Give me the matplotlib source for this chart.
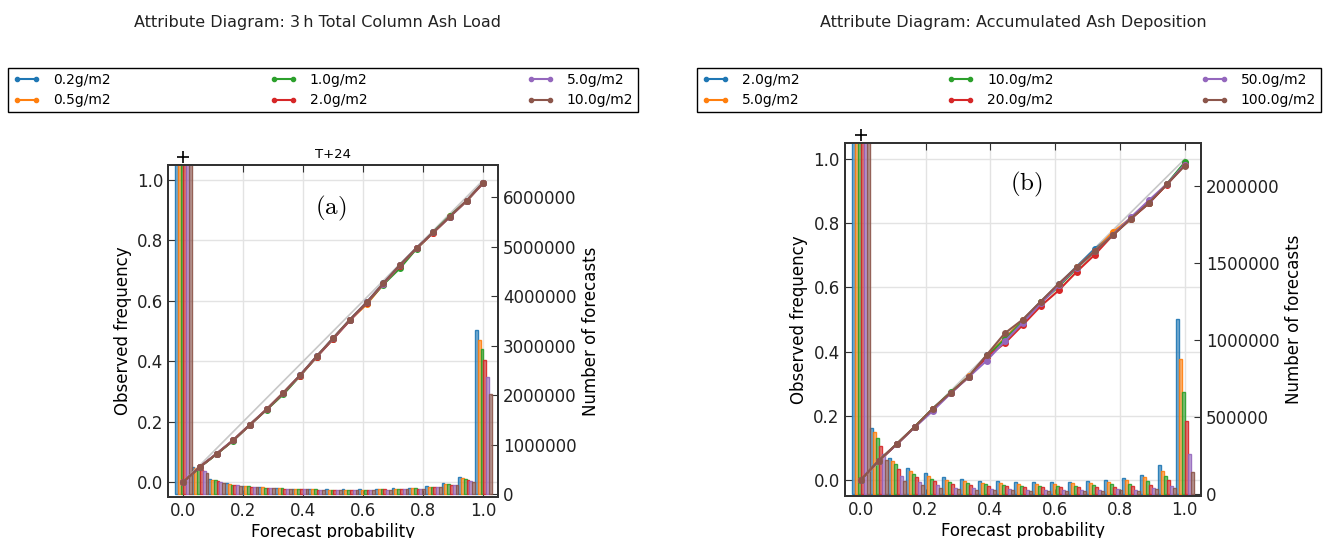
import matplotlib
matplotlib.use("Agg")
import matplotlib.pyplot as plt
from matplotlib.colors import to_rgba
import numpy as np

plt.rcParams['font.family'] = ['DejaVu Sans']
plt.rcParams['mathtext.fontset'] = 'cm'

# ---------------- data ----------------
n_members = 18
prob = [k / n_members for k in range(n_members + 1)]   # forecast probability levels

colors = ['#1f77b4', '#ff7f0e', '#2ca02c', '#d62728', '#9467bd', '#8c564b']

titles = ["Attribute Diagram: 3\u2009h Total Column Ash Load",
          "Attribute Diagram: Accumulated Ash Deposition"]
labels_a = ['0.2g/m2', '0.5g/m2', '1.0g/m2', '2.0g/m2', '5.0g/m2', '10.0g/m2']
labels_b = ['2.0g/m2', '5.0g/m2', '10.0g/m2', '20.0g/m2', '50.0g/m2', '100.0g/m2']

# observed frequency, panel (a)
obs_a = [
    [0.0, 0.050, 0.093, 0.138, 0.190, 0.240, 0.295, 0.353, 0.416, 0.477, 0.538, 0.595, 0.658, 0.719, 0.775, 0.827, 0.879, 0.932, 0.992],
    [0.0, 0.050, 0.093, 0.139, 0.190, 0.241, 0.296, 0.352, 0.415, 0.476, 0.537, 0.588, 0.655, 0.718, 0.774, 0.826, 0.880, 0.932, 0.991],
    [0.0, 0.049, 0.092, 0.137, 0.189, 0.239, 0.290, 0.351, 0.414, 0.475, 0.536, 0.592, 0.654, 0.708, 0.773, 0.828, 0.882, 0.931, 0.991],
    [0.0, 0.050, 0.093, 0.138, 0.189, 0.240, 0.294, 0.352, 0.414, 0.474, 0.535, 0.593, 0.656, 0.716, 0.774, 0.826, 0.879, 0.931, 0.990],
    [0.0, 0.050, 0.094, 0.139, 0.190, 0.241, 0.295, 0.353, 0.416, 0.476, 0.537, 0.595, 0.657, 0.718, 0.775, 0.827, 0.879, 0.932, 0.991],
    [0.0, 0.050, 0.093, 0.138, 0.190, 0.240, 0.295, 0.353, 0.416, 0.477, 0.538, 0.595, 0.658, 0.719, 0.775, 0.827, 0.879, 0.932, 0.992],
]
# observed frequency, panel (b)
obs_b = [
    [0.0, 0.060, 0.112, 0.165, 0.222, 0.272, 0.322, 0.388, 0.440, 0.498, 0.556, 0.610, 0.665, 0.720, 0.765, 0.815, 0.862, 0.921, 0.988],
    [0.0, 0.060, 0.112, 0.165, 0.221, 0.272, 0.323, 0.386, 0.442, 0.497, 0.554, 0.608, 0.663, 0.714, 0.772, 0.816, 0.864, 0.921, 0.985],
    [0.0, 0.060, 0.112, 0.166, 0.222, 0.273, 0.322, 0.385, 0.438, 0.494, 0.553, 0.603, 0.660, 0.712, 0.764, 0.814, 0.863, 0.922, 0.990],
    [0.0, 0.059, 0.111, 0.165, 0.221, 0.271, 0.321, 0.383, 0.426, 0.483, 0.542, 0.591, 0.649, 0.702, 0.763, 0.813, 0.862, 0.920, 0.982],
    [0.0, 0.060, 0.111, 0.164, 0.215, 0.270, 0.321, 0.372, 0.432, 0.490, 0.550, 0.607, 0.662, 0.713, 0.764, 0.818, 0.871, 0.922, 0.983],
    [0.0, 0.060, 0.112, 0.165, 0.222, 0.272, 0.322, 0.390, 0.457, 0.500, 0.556, 0.612, 0.663, 0.713, 0.762, 0.814, 0.863, 0.921, 0.979],
]

# number of forecasts per probability bin (millions), panel (a)
count_a = [
    [29.0, 0.54, 0.300, 0.215, 0.170, 0.140, 0.120, 0.105, 0.100, 0.095, 0.095, 0.098, 0.100, 0.115, 0.120, 0.160, 0.215, 0.335, 3.31],
    [28.5, 0.52, 0.285, 0.200, 0.160, 0.135, 0.115, 0.100, 0.095, 0.090, 0.085, 0.090, 0.098, 0.105, 0.115, 0.150, 0.200, 0.325, 3.11],
    [28.0, 0.50, 0.280, 0.190, 0.155, 0.130, 0.112, 0.100, 0.092, 0.088, 0.082, 0.088, 0.095, 0.100, 0.115, 0.145, 0.195, 0.310, 2.93],
    [27.5, 0.48, 0.265, 0.185, 0.150, 0.125, 0.110, 0.097, 0.090, 0.085, 0.080, 0.085, 0.093, 0.100, 0.110, 0.140, 0.185, 0.290, 2.70],
    [27.0, 0.46, 0.245, 0.175, 0.145, 0.120, 0.105, 0.095, 0.088, 0.082, 0.078, 0.083, 0.090, 0.098, 0.108, 0.138, 0.180, 0.270, 2.37],
    [26.5, 0.43, 0.230, 0.165, 0.140, 0.118, 0.103, 0.093, 0.086, 0.080, 0.076, 0.082, 0.088, 0.096, 0.105, 0.135, 0.175, 0.250, 2.03],
]
# number of forecasts per probability bin (millions), panel (b)
count_b = [
    [12.0, 0.430, 0.235, 0.165, 0.134, 0.108, 0.097, 0.085, 0.084, 0.078, 0.078, 0.078, 0.078, 0.085, 0.088, 0.104, 0.123, 0.186, 1.136],
    [11.8, 0.400, 0.215, 0.150, 0.117, 0.090, 0.084, 0.072, 0.070, 0.066, 0.066, 0.066, 0.068, 0.070, 0.076, 0.087, 0.106, 0.150, 0.875],
    [11.6, 0.360, 0.190, 0.130, 0.095, 0.075, 0.072, 0.060, 0.058, 0.053, 0.053, 0.053, 0.053, 0.056, 0.060, 0.066, 0.080, 0.118, 0.664],
    [11.4, 0.310, 0.160, 0.106, 0.080, 0.064, 0.058, 0.050, 0.047, 0.043, 0.043, 0.042, 0.041, 0.043, 0.045, 0.048, 0.058, 0.086, 0.470],
    [11.2, 0.260, 0.112, 0.073, 0.058, 0.040, 0.037, 0.033, 0.030, 0.026, 0.026, 0.024, 0.026, 0.026, 0.028, 0.026, 0.037, 0.052, 0.258],
    [11.0, 0.220, 0.085, 0.055, 0.040, 0.030, 0.027, 0.024, 0.022, 0.020, 0.020, 0.019, 0.020, 0.020, 0.022, 0.020, 0.028, 0.040, 0.141],
]

# ---------------- figure ----------------
W, H = 1323, 538
fig = plt.figure(figsize=(W / 100, H / 100), dpi=100)


def px_rect(x0, x1, ytop, ybot):
    return [x0 / W, 1 - ybot / H, (x1 - x0) / W, (ybot - ytop) / H]


def panel(rect, obs, counts, labels, count_lim, count_ticks, tag, tag_xy, subtitle):
    ax = fig.add_axes(rect)
    ax2 = ax.twinx()
    ax.set_xlim(-0.05, 1.05)
    ax.set_ylim(-0.05, 1.05)
    ax.set_xticks([0.0, 0.2, 0.4, 0.6, 0.8, 1.0])
    ax.set_yticks([0.0, 0.2, 0.4, 0.6, 0.8, 1.0])
    ax.grid(True, color='#e3e3e3', lw=1.0)
    ax.set_axisbelow(True)

    # histogram bars (on twin axis)
    binw = 1.0 / n_members
    nser = len(counts)
    bw = binw / nser
    for s, cser in enumerate(counts):
        xs = [p - binw / 2 + s * bw for p in prob]
        hs = [c * 1e6 for c in cser]
        ax2.bar(xs, hs, width=bw, align='edge', color=to_rgba(colors[s], 0.6),
                edgecolor=to_rgba(colors[s], 0.9), linewidth=1.0, zorder=2)
    ax2.set_ylim(*count_lim)
    ax2.set_yticks(count_ticks)
    ax2.set_yticklabels([f"{int(t)}" for t in count_ticks])
    ax2.set_ylabel('Number of forecasts', fontsize=12)

    # reliability curves on top of bars, in main-axis coordinates
    ax2.plot([0, 1], [0, 1], color='#c8c8c8', lw=1.2, transform=ax.transData, zorder=3)
    handles = []
    for s, o in enumerate(obs):
        h, = ax2.plot(prob, o, color=colors[s], marker='.', ms=8, lw=1.5,
                      transform=ax.transData, zorder=4, label=labels[s])
        handles.append(h)
    ax2.set_ylim(*count_lim)

    ax.plot([0], [1.075], marker='+', color='black', ms=9, mew=1.2, clip_on=False)
    ax.text(tag_xy[0], tag_xy[1], tag, fontsize=18, ha='center', va='center')

    ax.set_xlabel('Forecast probability', fontsize=12, labelpad=2)
    ax.set_ylabel('Observed frequency', fontsize=12)
    if subtitle:
        ax.set_title(subtitle, fontsize=9.5, pad=5)

    for a in (ax, ax2):
        for sp in a.spines.values():
            sp.set_color('#333333')
            sp.set_linewidth(1.4)
        a.tick_params(direction='in', labelsize=12, length=5, color='#333333',
                      labelcolor='#222222')
    ax.tick_params(top=True)
    return ax, handles


ax_a, h_a = panel(px_rect(168.3, 498.3, 165, 497), obs_a, count_a, labels_a,
                  (-0.06e6, 6.65e6), [0, 1000000, 2000000, 3000000, 4000000, 5000000, 6000000],
                  r'$\mathrm{(a)}$', (0.49, 0.905), 'T+24')
ax_b, h_b = panel(px_rect(844.5, 1201, 143, 496), obs_b, count_b, labels_b,
                  (-0.015e6, 2.28e6), [0, 500000, 1000000, 1500000, 2000000],
                  r'$\mathrm{(b)}$', (0.51, 0.92), None)

fig.text(318 / W, 1 - 22 / H, titles[0], ha='center', va='center', fontsize=11.5, color='#222222')
fig.text(1013 / W, 1 - 22 / H, titles[1], ha='center', va='center', fontsize=11.5, color='#222222')

for handles, x0, x1 in ((h_a, 8, 638), (h_b, 697, 1321)):
    leg = fig.legend(handles=handles, loc='center', ncol=3, mode='expand',
                     bbox_to_anchor=(x0 / W, 1 - 112 / H, (x1 - x0) / W, 44 / H),
                     fontsize=10, fancybox=False, framealpha=1, edgecolor='black',
                     handlelength=2.0, borderaxespad=0, labelspacing=0.5,
                     handletextpad=0.9, borderpad=0.35, numpoints=2)
    leg.get_frame().set_linewidth(1.0)
    for lh in leg.legend_handles:
        lh.set_markersize(6)

fig.savefig('out.png', dpi=100)
